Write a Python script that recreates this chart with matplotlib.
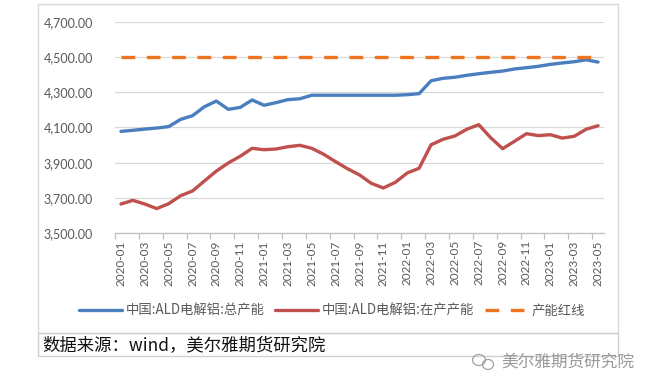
import numpy as np
import pandas as pd
import matplotlib
matplotlib.use("Agg")
import matplotlib.pyplot as plt
from matplotlib.patches import Rectangle, Ellipse
from matplotlib.ticker import FuncFormatter

# 数据（2020-01 ~ 2023-05，月度）
months = [p.strftime("%Y-%m") for p in pd.period_range("2020-01", "2023-05", freq="M")]
total_capacity = [4078, 4084, 4091, 4097, 4105, 4146, 4167, 4218, 4250, 4203,
                  4214, 4256, 4226, 4241, 4258, 4263, 4283, 4283, 4283, 4283,
                  4283, 4283, 4283, 4283, 4286, 4292, 4365, 4379, 4385, 4396,
                  4405, 4413, 4420, 4432, 4439, 4447, 4458, 4466, 4473, 4484,
                  4471]
running_capacity = [3666, 3687, 3666, 3640, 3668, 3713, 3740, 3797, 3853, 3899,
                    3937, 3982, 3974, 3978, 3991, 3999, 3982, 3948, 3906, 3866,
                    3831, 3783, 3757, 3789, 3842, 3869, 4002, 4033, 4052, 4090,
                    4116, 4042, 3980, 4022, 4065, 4054, 4059, 4040, 4050, 4090,
                    4110]
red_line = [4500] * len(months)
series_names = ["中国:ALD电解铝:总产能", "中国:ALD电解铝:在产产能", "产能红线"]
yticks = [3500, 3700, 3900, 4100, 4300, 4500, 4700]

W, H = 650, 391


def fx(px):
    return px / W


def fy(py):
    return 1 - py / H


fig = plt.figure(figsize=(W / 100, H / 100), dpi=100)
fig.patch.set_facecolor("white")

ax = fig.add_axes([fx(115), fy(233.3), fx(604) - fx(115), fy(21.7) - fy(233.3)])
x = np.arange(len(months))

ax.plot(x, total_capacity, color="#4A7EBF", lw=2.4, label=series_names[0], solid_capstyle="round")
ax.plot(x, running_capacity, color="#C0504D", lw=2.4, label=series_names[1], solid_capstyle="round")
ax.plot(x, red_line, color="#EE7420", lw=2.4, label=series_names[2],
        dashes=(4.1, 3.5), dash_capstyle="butt")

ax.set_xlim(-0.5, len(months) - 0.5)
ax.set_ylim(3500, 4700)
ax.set_yticks(yticks)
ax.yaxis.set_major_formatter(FuncFormatter(lambda v, _: f"{v:,.2f}"))
ax.grid(axis="y", color="#D9D9D9", lw=0.9)
ax.set_axisbelow(True)

for s in ["top", "right", "left"]:
    ax.spines[s].set_visible(False)
ax.spines["bottom"].set_color("#BFBFBF")
ax.spines["bottom"].set_linewidth(0.9)

ax.set_xticks(x[::2])
ax.set_xticklabels(months[::2], rotation=90, fontsize=8.5, color="#595959",
                   family=["Lato", "DejaVu Sans"])
ax.set_xticks(np.arange(-0.5, len(months), 2), minor=True)
ax.tick_params(axis="x", which="major", length=0, pad=5)
ax.tick_params(axis="x", which="minor", length=4, color="#BFBFBF", width=0.9)
ax.tick_params(axis="y", length=0, pad=16, labelsize=9, labelcolor="#595959")
for t in ax.get_yticklabels():
    t.set_family(["Lato", "DejaVu Sans"])

fig.legend(loc="center", bbox_to_anchor=(fx(332), fy(311)), ncol=3, frameon=False,
           handlelength=3.2, handletextpad=0.3, columnspacing=0.8,
           prop={"family": ["Noto Sans CJK SC", "DejaVu Sans"], "size": 9.6},
           labelcolor="#595959")

# 图表外框和数据来源单元格
fig.add_artist(Rectangle((fx(38), fy(333)), fx(618) - fx(38), fy(4) - fy(333),
                         transform=fig.transFigure, fill=False, ec="#D9D9D9", lw=1))
fig.add_artist(Rectangle((fx(38), fy(356)), fx(618) - fx(38), fy(333) - fy(356),
                         transform=fig.transFigure, fill=False, ec="#D0D0D0", lw=1))
fig.text(fx(42), fy(345), "数据来源：wind，美尔雅期货研究院", ha="left", va="center",
         fontsize=12.5, color="#111111", family=["Noto Sans CJK SC", "DejaVu Sans"])

# 水印
fig.add_artist(Ellipse((fx(479), fy(360)), 13 / W, 11 / H, transform=fig.transFigure,
                       fill=False, ec="#A0A0A0", lw=0.9))
fig.add_artist(Ellipse((fx(488), fy(364.5)), 11 / W, 10 / H, transform=fig.transFigure,
                       fill=False, ec="#A0A0A0", lw=0.9))
fig.text(fx(501), fy(362), "美尔雅期货研究院", ha="left", va="center",
         fontsize=12, color="#9A9A9A", family=["Noto Sans CJK SC", "DejaVu Sans"])

fig.savefig("out.png", dpi=100)
